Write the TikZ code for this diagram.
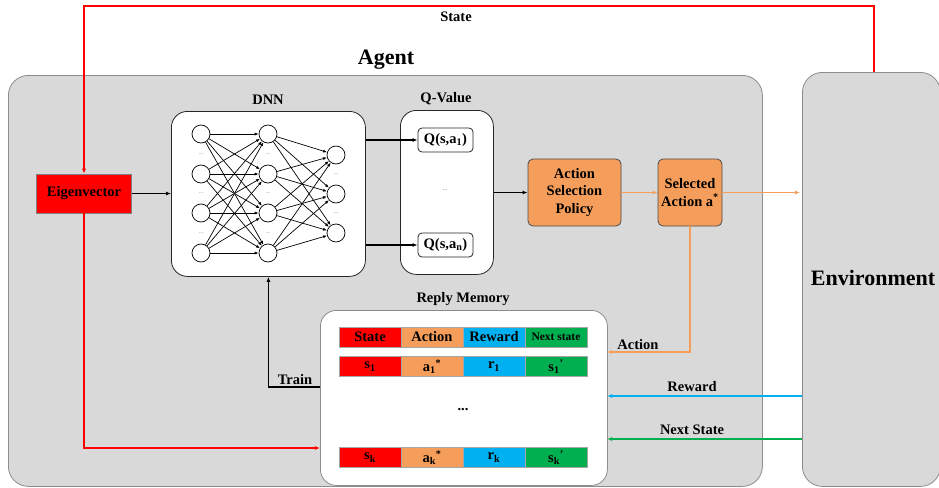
\documentclass[tikz,border=0pt]{standalone}
\usepackage{fontspec}
\setmainfont{Liberation Serif}
\usetikzlibrary{arrows.meta}
\definecolor{panel}{HTML}{D9D9D9}
\definecolor{panelline}{HTML}{8C8C8C}
\definecolor{cellline}{HTML}{A6A6A6}
\definecolor{rlred}{HTML}{FF0000}
\definecolor{rlorange}{HTML}{F59E5B}
\definecolor{rlblue}{HTML}{00B0F0}
\definecolor{rlgreen}{HTML}{00B050}
\begin{document}
\begin{tikzpicture}[x=1pt,y=-1pt,
  lbl/.style={font=\fontsize{14.5}{17}\selectfont\bfseries, inner sep=1pt},
  biglbl/.style={font=\fontsize{22}{25}\selectfont\bfseries, inner sep=0pt},
  panelbox/.style={draw=panelline, fill=panel, rounded corners=20pt, line width=0.8pt, inner sep=0pt, anchor=north west},
  whitebox/.style={draw=black!85, fill=white, rounded corners=16pt, line width=0.8pt, inner sep=0pt, anchor=north west},
  membox/.style={draw=panelline, fill=white, rounded corners=16pt, line width=0.8pt, inner sep=0pt, anchor=north west},
  qbox/.style={draw=black!85, fill=white, rounded corners=4pt, line width=0.8pt, minimum width=55pt, minimum height=24pt, inner sep=0pt, font=\fontsize{14.5}{17}\selectfont\bfseries},
  orangebox/.style={draw=black!70, fill=rlorange, rounded corners=5pt, line width=0.8pt, inner sep=0pt, align=center, font=\fontsize{14.5}{17.5}\selectfont\bfseries},
  cell/.style={draw=cellline, line width=0.6pt, minimum width=62pt, minimum height=20pt, inner sep=0pt, font=\fontsize{14.5}{16}\selectfont\bfseries},
  neuron/.style={circle, draw=black, fill=white, line width=0.7pt, minimum size=18pt, inner sep=0pt},
  nndots/.style={font=\fontsize{6}{6}\selectfont, text=gray, inner sep=0pt},
  link/.style={line width=0.7pt, -{Latex[length=4pt,width=3pt]}},
  flow/.style={line width=1.1pt, -{Latex[length=5pt,width=4pt]}},
]
\useasboundingbox (0,0) rectangle (939,487);

% outer panels
\node[panelbox, minimum width=754pt, minimum height=411pt] (agent) at (8,75) {};
\node[panelbox, minimum width=138pt, minimum height=414pt] (env) at (802,72) {};
\node[biglbl] at (386,60) {Agent};
\node[biglbl] at (873,278) {Environment};

% input feature block
\node[draw=gray, fill=rlred, line width=0.6pt, minimum width=95pt, minimum height=39pt, inner sep=0pt, font=\fontsize{14.5}{16}\selectfont\bfseries] (eig) at (84,193.5) {Eigenvector};

% DNN panel
\node[whitebox, minimum width=194pt, minimum height=165pt] (dnn) at (171,111) {};
\node[lbl] at (268,100) {DNN};
\foreach \i/\y in {1/134,2/174,3/213,4/253} {
  \node[neuron] (a\i) at (201,\y) {};
  \node[neuron] (b\i) at (268,\y) {};
}
\foreach \i/\y in {1/155,2/194,3/233}
  \node[neuron] (c\i) at (336,\y) {};
\foreach \y in {154,193.5,233} {
  \node[nndots] at (201,\y) {...};
  \node[nndots] at (268,\y) {...};
}
\foreach \y in {174.5,213.5}
  \node[nndots] at (336,\y) {...};
\foreach \i in {1,...,4}
  \foreach \j in {1,...,4}
    \draw[link] (a\i) -- (b\j);
\foreach \i in {1,...,4}
  \foreach \j in {1,...,3}
    \draw[link] (b\i) -- (c\j);

% Q-value panel
\node[whitebox, minimum width=93pt, minimum height=164pt] (qv) at (400,110) {};
\node[lbl] at (446,99) {Q-Value};
\node[qbox] (q1) at (445.5,140) {Q(s,a\textsubscript{1})};
\node[qbox] (qn) at (445.5,245) {Q(s,a\textsubscript{n})};
\node[nndots, text=black!70] (qdots) at (445,190) {...};

% action selection
\node[orangebox, minimum width=93pt, minimum height=67pt] (asp) at (574.5,192.5) {Action\\Selection\\Policy};
\node[orangebox, minimum width=64pt, minimum height=67pt] (sel) at (690,192.5) {Selected\\Action a\textsuperscript{*}};

% replay memory
\node[membox, minimum width=287pt, minimum height=175pt] (mem) at (320,310) {};
\node[lbl] at (463,299) {Reply Memory};
\node[cell, fill=rlred] (h1) at (370,337) {State};
\node[cell, fill=rlorange] (h2) at (432,337) {Action};
\node[cell, fill=rlblue] (h3) at (494,337) {Reward};
\node[cell, fill=rlgreen, font=\fontsize{11.5}{13}\selectfont\bfseries] (h4) at (556,337) {Next state};
\node[cell, fill=rlred] (r11) at (370,366.5) {s\textsubscript{1}};
\node[cell, fill=rlorange] (r12) at (432,366.5) {a\textsubscript{1}\textsuperscript{*}};
\node[cell, fill=rlblue] (r13) at (494,366.5) {r\textsubscript{1}};
\node[cell, fill=rlgreen] (r14) at (556,366.5) {s\textsubscript{1}\textsuperscript{'}};
\node[cell, fill=rlred] (rk1) at (370,457.5) {s\textsubscript{k}};
\node[cell, fill=rlorange] (rk2) at (432,457.5) {a\textsubscript{k}\textsuperscript{*}};
\node[cell, fill=rlblue] (rk3) at (494,457.5) {r\textsubscript{k}};
\node[cell, fill=rlgreen] (rk4) at (556,457.5) {s\textsubscript{k}\textsuperscript{'}};
\node[lbl] (memdots) at (463,410) {...};

% forward flow
\draw[flow] (eig.east) -- (eig.east -| dnn.west);
\draw[flow] (dnn.east |- q1) -- (q1.west);
\draw[flow] (dnn.east |- qn) -- (qn.west);
\draw[flow] (qv.east |- asp) -- (asp.west);
\draw[flow, rlorange] (asp.east) -- (sel.west);
\coordinate (envin) at (800,192.5);
\draw[flow, rlorange] (sel.east) -- (envin);

% state feedback from the environment
\coordinate (envtop) at (874,72);
\coordinate (stcorner) at (84,6);
\draw[flow, rlred] (envtop) |- (stcorner) -- (eig.north);
\node[lbl] at (456,17) {State};

% storing transitions
\coordinate (stin) at (320,448);
\draw[flow, rlred] (eig.south) |- (stin);
\coordinate (actin) at (607,352);
\draw[flow, rlorange] (sel.south) |- (actin);
\node[lbl] at (638,345) {Action};
\coordinate (rwin) at (607,396);
\draw[flow, rlblue] (env.west |- rwin) -- (rwin);
\node[lbl] at (692,387) {Reward};
\coordinate (nsin) at (607,439);
\draw[flow, rlgreen] (env.west |- nsin) -- (nsin);
\node[lbl] at (692,430) {Next State};

% training
\coordinate (trout) at (320,387);
\draw[flow] (trout) -| (dnn.south);
\node[lbl] at (295,380) {Train};
\end{tikzpicture}
\end{document}
